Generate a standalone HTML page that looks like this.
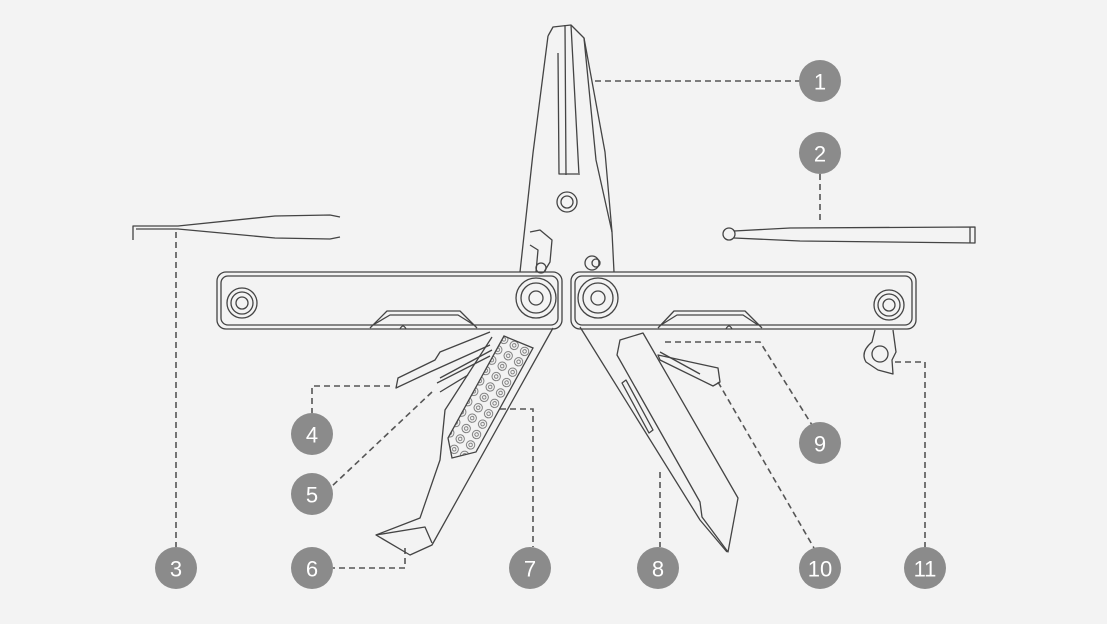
<!DOCTYPE html>
<html><head><style>
html,body{margin:0;padding:0;background:#f3f3f3;}
svg{display:block}
.c{fill:#8b8b8b}
.t{fill:#fff;font-family:"Liberation Sans",sans-serif;font-size:22px;text-anchor:middle;dominant-baseline:central}
.l{fill:none;stroke:#444;stroke-width:1.3;stroke-linejoin:round}
.d{fill:none;stroke:#555;stroke-width:1.6;stroke-dasharray:6 4}
</style></head><body>
<svg width="1107" height="624" viewBox="0 0 1107 624" xmlns="http://www.w3.org/2000/svg">
<defs>
<pattern id="dots" width="12" height="12" patternUnits="userSpaceOnUse" patternTransform="rotate(30)">
<circle cx="6" cy="6" r="4.2" fill="none" stroke="#666" stroke-width="0.8"/>
<circle cx="6" cy="6" r="1.8" fill="none" stroke="#666" stroke-width="0.8"/>
</pattern>
</defs>
<path class="d" d="M595 81H800"/>
<path class="d" d="M820 174V222"/>
<path class="d" d="M176 232V547"/>
<path class="d" d="M390 386H312V413"/>
<path class="d" d="M432 392L330 488"/>
<path class="d" d="M405 548V568H333"/>
<path class="d" d="M500 409H533V547"/>
<path class="d" d="M660 472V547"/>
<path class="d" d="M665 342H760L812 425"/>
<path class="d" d="M718 382L814 548"/>
<path class="d" d="M895 362H925V547"/>

<path class="l" d="M548 36L553 27L571 25L584 38L605 152L612 232L614 272"/>
<path class="l" d="M548 36L533 153L520 272"/>
<path class="l" d="M565 25L566 175M571 25L579 175"/>
<path class="l" d="M558 53L559 174H578"/>
<path class="l" d="M584 38L596 160L612 232"/>
<circle class="l" cx="567" cy="202" r="10"/><circle class="l" cx="567" cy="202" r="6"/>
<path class="l" d="M530 232L540 230L552 240L550 262L544 272"/>
<path class="l" d="M530 245L538 250L536 272"/>
<circle class="l" cx="541" cy="268" r="5"/>
<circle class="l" cx="592" cy="263" r="7"/><circle class="l" cx="596" cy="263" r="4"/>

<path class="l" d="M133 240V226H178L275 216L330 215L340 217"/>
<path class="l" d="M136 229H178L275 238L330 239L340 237"/>

<circle class="l" cx="729" cy="234" r="6"/>
<path class="l" d="M734 231L790 228L975 227V243L800 241L734 238"/>
<path class="l" d="M970 227V243"/>

<rect class="l" x="217" y="272" width="345" height="57" rx="9" stroke-width="2"/>
<rect class="l" x="221" y="276" width="337" height="49" rx="7"/>
<path class="l" d="M370 328L387 311H460L477 328"/>
<path class="l" d="M373 325L390 315H458L474 325"/>
<path class="l" d="M400 329q3 -6 6 0"/>
<circle class="l" cx="242" cy="303" r="15"/><circle class="l" cx="242" cy="303" r="11"/><circle class="l" cx="242" cy="303" r="6"/>
<circle class="l" cx="536" cy="298" r="20"/><circle class="l" cx="536" cy="298" r="15"/><circle class="l" cx="536" cy="298" r="7"/>

<rect class="l" x="571" y="272" width="345" height="57" rx="9" stroke-width="2"/>
<rect class="l" x="575" y="276" width="337" height="49" rx="7"/>
<path class="l" d="M658 328L674 311H745L762 328"/>
<path class="l" d="M661 325L677 315H743L758 325"/>
<path class="l" d="M726 329q3 -6 6 0"/>
<circle class="l" cx="598" cy="298" r="20"/><circle class="l" cx="598" cy="298" r="15"/><circle class="l" cx="598" cy="298" r="7"/>
<circle class="l" cx="889" cy="305" r="15"/><circle class="l" cx="889" cy="305" r="11"/><circle class="l" cx="889" cy="305" r="6"/>

<path class="l" d="M875 330L872 342Q860 352 866 362L878 370L893 374L892 360L896 352L893 330"/>
<circle class="l" cx="880" cy="354" r="8"/>

<path class="l" d="M553 328L432 545L410 555L376 535L420 518L440 460L445 410L492 337"/>
<path class="l" d="M376 535L425 527L432 543"/>
<path class="l" d="M490 332L440 352L435 360L398 378L396 388L430 372L490 345"/>
<path class="l" d="M440 378L492 350M437 383L490 356"/>
<path class="l" d="M440 392L468 375"/>
<path fill="url(#dots)" stroke="#444" stroke-width="1.3" d="M504 336L533 348L476 452L452 458L448 438Z"/>

<!-- right tools -->
<path class="l" d="M580 327L700 520L727 552"/>
<path class="l" d="M620 340L643 333L738 498L728 552L702 517L700 502L617 355Z"/>
<path class="l" d="M622 383L626 380L653 430L649 433Z"/>
<path class="l" d="M658 355L718 368L720 382L713 386L660 360Z"/>
<path class="l" d="M660 352L700 374"/>

<g>
<circle class="c" cx="820" cy="81" r="21"/><text class="t" x="820" y="82">1</text>
<circle class="c" cx="820" cy="153" r="21"/><text class="t" x="820" y="154">2</text>
<circle class="c" cx="176" cy="568" r="21"/><text class="t" x="176" y="569">3</text>
<circle class="c" cx="312" cy="434" r="21"/><text class="t" x="312" y="435">4</text>
<circle class="c" cx="312" cy="494" r="21"/><text class="t" x="312" y="495">5</text>
<circle class="c" cx="312" cy="568" r="21"/><text class="t" x="312" y="569">6</text>
<circle class="c" cx="530" cy="568" r="21"/><text class="t" x="530" y="569">7</text>
<circle class="c" cx="658" cy="568" r="21"/><text class="t" x="658" y="569">8</text>
<circle class="c" cx="820" cy="443" r="21"/><text class="t" x="820" y="444">9</text>
<circle class="c" cx="820" cy="568" r="21"/><text class="t" x="820" y="569">10</text>
<circle class="c" cx="925" cy="568" r="21"/><text class="t" x="925" y="569">11</text>
</g>
</svg>
</body></html>
